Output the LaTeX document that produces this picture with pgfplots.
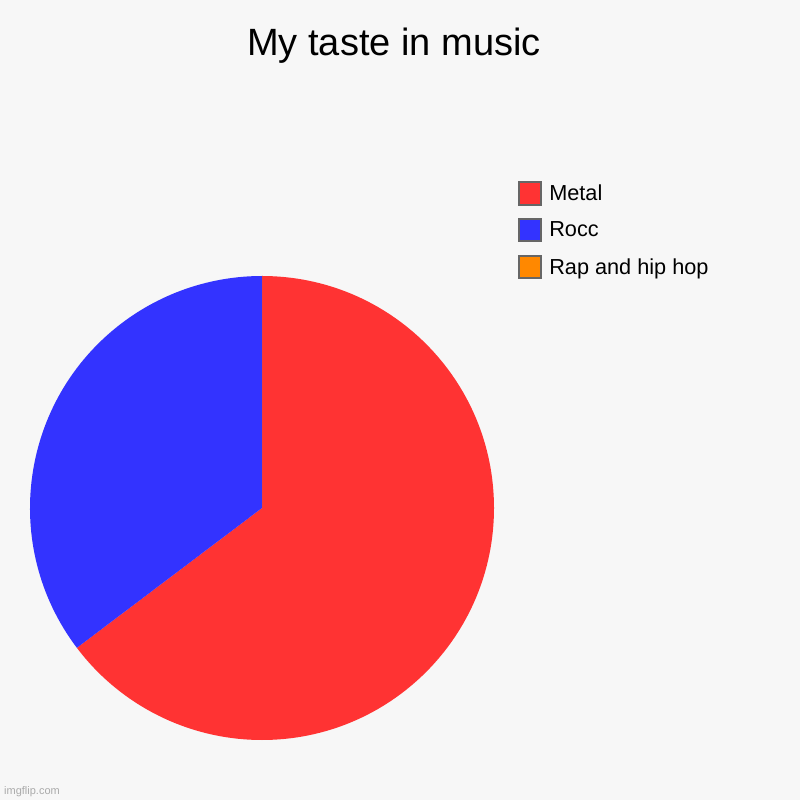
\documentclass[border=0pt]{standalone}
\usepackage{pgfplots}
\usepackage{pgfplotstable}
\pgfplotsset{compat=1.18}
\usepackage{fontspec}
\setmainfont{Liberation Sans}

\definecolor{bgcol}{HTML}{F7F7F7}
\definecolor{metalred}{HTML}{FF3333}
\definecolor{roccblue}{HTML}{3333FF}
\definecolor{raporange}{HTML}{FF8800}
\definecolor{boxgray}{HTML}{666666}
\definecolor{markgray}{HTML}{AAAAAA}

% slice values
\pgfplotstableread{
genre value
Metal 11
Rocc 6
Rap 0
}\musicdata

\begin{document}
\begin{tikzpicture}
	\useasboundingbox (0,0) rectangle (800pt,800pt);
	\fill[bgcol] (0,0) rectangle (800pt,800pt);

	\pgfplotstablegetelem{0}{value}\of\musicdata \pgfmathsetmacro\vmetal{\pgfplotsretval}
	\pgfplotstablegetelem{1}{value}\of\musicdata \pgfmathsetmacro\vrocc{\pgfplotsretval}
	\pgfplotstablegetelem{2}{value}\of\musicdata \pgfmathsetmacro\vrap{\pgfplotsretval}
	\pgfmathsetmacro\vtotal{\vmetal+\vrocc+\vrap}
	% slices run clockwise from the top
	\pgfmathsetmacro\aa{90}
	\pgfmathsetmacro\ab{90-360*\vmetal/\vtotal}
	\pgfmathsetmacro\ac{\ab-360*\vrocc/\vtotal}
	\pgfmathsetmacro\ad{\ac-360*\vrap/\vtotal}

	\begin{axis}[
		at={(30pt,60pt)}, anchor=south west,
		width=464pt, height=464pt, scale only axis,
		xmin=-1, xmax=1, ymin=-1, ymax=1,
		hide axis, clip=false,
		title={My taste in music},
		title style={at={(rel axis cs:0.7845,1.463)}, anchor=base, font=\fontsize{38}{44}\selectfont, inner sep=0pt},
		legend image code/.code={\draw[#1, line width=2pt, draw=boxgray] (0pt,-11.2pt) rectangle (22.4pt,11.2pt);},
		legend style={at={(axis cs:1.103,1.409)}, anchor=north west, draw=none, fill=none,
			inner sep=0pt, outer sep=0pt, font=\fontsize{21.7}{26}\selectfont,
			row sep=12.4pt, column sep=5pt, cells={anchor=west}},
	]
		\addlegendimage{fill=metalred}
		\addlegendentry{Metal}
		\addlegendimage{fill=roccblue}
		\addlegendentry{Rocc}
		\addlegendimage{fill=raporange}
		\addlegendentry{Rap and hip hop}

		\fill[metalred] (axis cs:0,0) -- (axis cs:{cos(\aa)},{sin(\aa)}) arc[start angle=\aa, end angle=\ab, radius=232pt] -- cycle;
		\fill[roccblue] (axis cs:0,0) -- (axis cs:{cos(\ab)},{sin(\ab)}) arc[start angle=\ab, end angle=\ac, radius=232pt] -- cycle;
		\fill[raporange] (axis cs:0,0) -- (axis cs:{cos(\ac)},{sin(\ac)}) arc[start angle=\ac, end angle=\ad, radius=232pt] -- cycle;
	\end{axis}
	\node[anchor=base west, inner sep=0pt, text=markgray, font=\fontsize{11}{13}\selectfont] at (4pt,5.3pt) {imgflip.com};
\end{tikzpicture}
\end{document}
